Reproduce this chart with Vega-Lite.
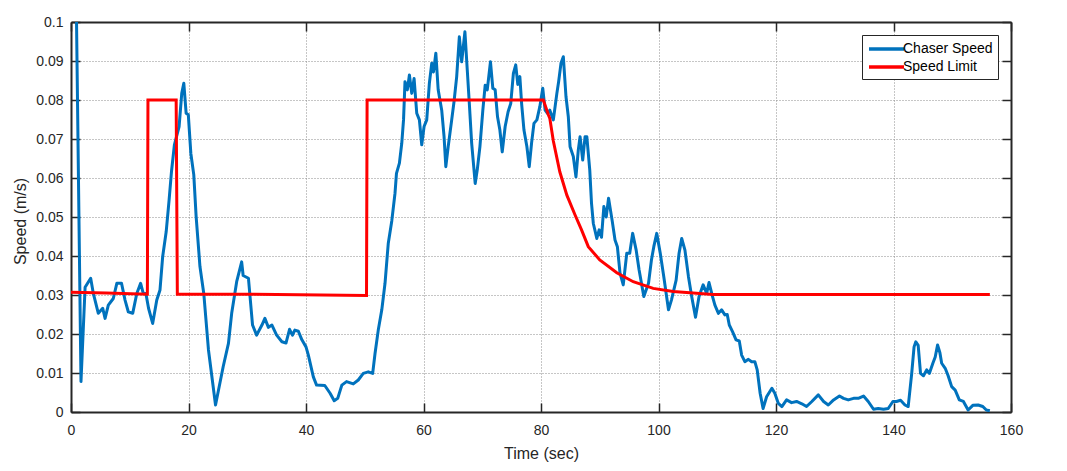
{
  "$schema": "https://vega.github.io/schema/vega-lite/v6.json",
  "width": 940,
  "height": 390,
  "autosize": {"type": "none"},
  "padding": {"left": 71, "top": 22, "right": 56, "bottom": 59},
  "background": "white",
  "config": {
    "view": {"stroke": null},
    "font": "Liberation Sans",
    "axis": {
      "domainColor": "#262626",
      "domainWidth": 2,
      "tickColor": "#262626",
      "tickWidth": 1.5,
      "tickSize": -9,
      "labelFlush": false,
      "labelColor": "#262626",
      "labelFontSize": 14,
      "titleColor": "#262626",
      "titleFontSize": 16,
      "titleFontWeight": "normal",
      "gridColor": "#8c8c8c",
      "gridDash": [1, 2],
      "gridWidth": 1
    },
    "legend": {
      "orient": "none",
      "legendX": 791,
      "legendY": 13,
      "fillColor": "white",
      "strokeColor": "#262626",
      "padding": 5,
      "symbolType": "M-1,0H4",
      "symbolSize": 196,
      "symbolStrokeWidth": 3.5,
      "labelOffset": 18,
      "labelFontSize": 14,
      "labelColor": "#000000",
      "rowPadding": 2,
      "title": null
    }
  },
  "resolve": {"axis": {"x": "independent", "y": "independent"}},
  "layer": [
    {
      "data": {"values": [
        {"t":0.9,"v":0.105},{"t":1.7,"v":0.0078},{"t":2.4,"v":0.032},{"t":3.35,"v":0.0343},{"t":3.8,"v":0.0304},{"t":4.65,"v":0.0253},{"t":5.4,"v":0.0266},{"t":5.8,"v":0.024},{"t":6.35,"v":0.0274},{"t":7.2,"v":0.0291},{"t":7.8,"v":0.033},{"t":8.6,"v":0.033},{"t":9.2,"v":0.0287},{"t":9.75,"v":0.0257},{"t":10.5,"v":0.0253},{"t":11.2,"v":0.0304},{"t":11.85,"v":0.033},{"t":12.3,"v":0.0304},{"t":12.75,"v":0.0304},{"t":13.2,"v":0.0266},{"t":13.9,"v":0.0227},{"t":14.6,"v":0.0287},{"t":15.15,"v":0.0313},{"t":15.6,"v":0.0398},{"t":16.2,"v":0.0462},{"t":16.7,"v":0.0544},{"t":17.1,"v":0.0616},{"t":17.6,"v":0.0685},{"t":18.4,"v":0.0732},{"t":18.85,"v":0.0817},{"t":19.2,"v":0.0843},{"t":19.6,"v":0.0766},{"t":19.97,"v":0.0762},{"t":20.4,"v":0.0663},{"t":20.9,"v":0.0608},{"t":21.3,"v":0.0501},{"t":21.95,"v":0.0373},{"t":22.6,"v":0.0304},{"t":23.4,"v":0.0159},{"t":24.6,"v":0.0018},{"t":25.9,"v":0.0116},{"t":26.8,"v":0.0176},{"t":27.35,"v":0.0253},{"t":28.2,"v":0.0334},{"t":29.05,"v":0.0385},{"t":29.3,"v":0.035},{"t":30.2,"v":0.0343},{"t":30.9,"v":0.0223},{"t":31.6,"v":0.0197},{"t":32.5,"v":0.0223},{"t":33.0,"v":0.024},{"t":33.6,"v":0.0217},{"t":34.2,"v":0.0223},{"t":35.0,"v":0.0197},{"t":35.9,"v":0.018},{"t":36.6,"v":0.0177},{"t":37.2,"v":0.0212},{"t":37.7,"v":0.0197},{"t":38.1,"v":0.021},{"t":38.7,"v":0.0207},{"t":39.3,"v":0.0185},{"t":40.0,"v":0.0167},{"t":40.4,"v":0.0146},{"t":41.25,"v":0.009},{"t":41.8,"v":0.0069},{"t":43.2,"v":0.0068},{"t":44.1,"v":0.0048},{"t":44.8,"v":0.0029},{"t":45.4,"v":0.0035},{"t":46.1,"v":0.0069},{"t":46.9,"v":0.0078},{"t":48.05,"v":0.0072},{"t":48.9,"v":0.0082},{"t":49.75,"v":0.0099},{"t":50.6,"v":0.0103},{"t":51.35,"v":0.0099},{"t":51.75,"v":0.015},{"t":52.3,"v":0.021},{"t":52.9,"v":0.0262},{"t":53.45,"v":0.033},{"t":54.0,"v":0.0432},{"t":54.6,"v":0.049},{"t":55.15,"v":0.0561},{"t":55.4,"v":0.0612},{"t":55.9,"v":0.0638},{"t":56.3,"v":0.0689},{"t":56.6,"v":0.0749},{"t":56.85,"v":0.0847},{"t":57.25,"v":0.0826},{"t":57.6,"v":0.0864},{"t":58.0,"v":0.0817},{"t":58.4,"v":0.0855},{"t":58.85,"v":0.0766},{"t":59.3,"v":0.0749},{"t":59.7,"v":0.0685},{"t":60.1,"v":0.0732},{"t":60.55,"v":0.0749},{"t":61.0,"v":0.0843},{"t":61.4,"v":0.0894},{"t":61.7,"v":0.0872},{"t":62.1,"v":0.092},{"t":62.5,"v":0.0826},{"t":63.1,"v":0.0774},{"t":63.5,"v":0.0706},{"t":63.8,"v":0.0629},{"t":64.2,"v":0.068},{"t":64.8,"v":0.0749},{"t":65.2,"v":0.0796},{"t":65.65,"v":0.086},{"t":66.1,"v":0.0962},{"t":66.5,"v":0.0898},{"t":67.05,"v":0.0975},{"t":67.45,"v":0.0877},{"t":67.8,"v":0.0791},{"t":68.2,"v":0.0689},{"t":68.8,"v":0.0586},{"t":69.15,"v":0.0621},{"t":69.6,"v":0.068},{"t":70.1,"v":0.0774},{"t":70.5,"v":0.0838},{"t":70.85,"v":0.0826},{"t":71.4,"v":0.0898},{"t":71.8,"v":0.083},{"t":72.2,"v":0.0826},{"t":72.6,"v":0.0757},{"t":73.0,"v":0.0723},{"t":73.4,"v":0.0667},{"t":73.9,"v":0.0732},{"t":74.4,"v":0.077},{"t":74.85,"v":0.0791},{"t":75.3,"v":0.0868},{"t":75.7,"v":0.089},{"t":76.05,"v":0.084},{"t":76.4,"v":0.086},{"t":76.7,"v":0.0791},{"t":77.1,"v":0.0723},{"t":77.6,"v":0.068},{"t":78.0,"v":0.0629},{"t":78.4,"v":0.069},{"t":78.8,"v":0.074},{"t":79.3,"v":0.0749},{"t":79.8,"v":0.0783},{"t":80.3,"v":0.083},{"t":80.7,"v":0.0774},{"t":81.1,"v":0.0766},{"t":81.5,"v":0.0774},{"t":82.1,"v":0.0749},{"t":82.7,"v":0.0817},{"t":83.0,"v":0.0847},{"t":83.4,"v":0.0894},{"t":83.8,"v":0.0911},{"t":84.25,"v":0.0809},{"t":84.65,"v":0.0757},{"t":84.95,"v":0.068},{"t":85.5,"v":0.0655},{"t":85.95,"v":0.0603},{"t":86.35,"v":0.0672},{"t":86.65,"v":0.0706},{"t":87.1,"v":0.0646},{"t":87.5,"v":0.0706},{"t":87.8,"v":0.0706},{"t":88.3,"v":0.062},{"t":88.6,"v":0.0535},{"t":88.9,"v":0.0484},{"t":89.5,"v":0.0445},{"t":89.9,"v":0.0467},{"t":90.3,"v":0.0448},{"t":90.7,"v":0.0527},{"t":91.1,"v":0.05},{"t":91.5,"v":0.0548},{"t":92.1,"v":0.0492},{"t":92.6,"v":0.0441},{"t":93.0,"v":0.0424},{"t":93.45,"v":0.0356},{"t":94.0,"v":0.0326},{"t":94.6,"v":0.0407},{"t":95.1,"v":0.0407},{"t":95.6,"v":0.0458},{"t":96.2,"v":0.0415},{"t":96.7,"v":0.0364},{"t":97.5,"v":0.0296},{"t":98.3,"v":0.033},{"t":98.8,"v":0.039},{"t":99.2,"v":0.0424},{"t":99.7,"v":0.0458},{"t":100.3,"v":0.0407},{"t":100.9,"v":0.0347},{"t":101.7,"v":0.0262},{"t":102.2,"v":0.0287},{"t":103.0,"v":0.0338},{"t":103.5,"v":0.0407},{"t":103.95,"v":0.0445},{"t":104.5,"v":0.0415},{"t":105.1,"v":0.0347},{"t":105.65,"v":0.0296},{"t":106.3,"v":0.0243},{"t":106.9,"v":0.0296},{"t":107.6,"v":0.0326},{"t":108.2,"v":0.0304},{"t":108.6,"v":0.0332},{"t":109.2,"v":0.0296},{"t":109.6,"v":0.0274},{"t":110.2,"v":0.0253},{"t":110.75,"v":0.0262},{"t":111.3,"v":0.0249},{"t":111.7,"v":0.025},{"t":112.05,"v":0.0223},{"t":112.6,"v":0.0206},{"t":113.2,"v":0.0185},{"t":113.75,"v":0.0182},{"t":114.15,"v":0.0146},{"t":114.7,"v":0.0129},{"t":115.3,"v":0.0135},{"t":115.85,"v":0.0129},{"t":116.4,"v":0.0129},{"t":116.8,"v":0.0108},{"t":117.3,"v":0.0048},{"t":117.8,"v":0.0009},{"t":118.4,"v":0.0039},{"t":119.3,"v":0.0061},{"t":119.8,"v":0.0048},{"t":120.4,"v":0.0022},{"t":121.0,"v":0.0014},{"t":121.8,"v":0.0031},{"t":122.65,"v":0.0024},{"t":123.5,"v":0.0027},{"t":124.4,"v":0.0021},{"t":125.2,"v":0.0014},{"t":126.1,"v":0.0027},{"t":127.2,"v":0.0044},{"t":128.1,"v":0.0027},{"t":128.9,"v":0.0018},{"t":129.8,"v":0.0031},{"t":130.8,"v":0.0041},{"t":131.5,"v":0.0035},{"t":132.3,"v":0.0031},{"t":133.2,"v":0.0035},{"t":134.0,"v":0.0035},{"t":134.9,"v":0.0041},{"t":135.7,"v":0.0027},{"t":136.6,"v":0.0007},{"t":137.4,"v":0.0009},{"t":138.3,"v":0.0007},{"t":139.1,"v":0.0009},{"t":139.9,"v":0.0027},{"t":140.5,"v":0.0027},{"t":141.2,"v":0.003},{"t":141.95,"v":0.0018},{"t":142.5,"v":0.0014},{"t":143.1,"v":0.0099},{"t":143.5,"v":0.0167},{"t":143.8,"v":0.018},{"t":144.2,"v":0.0171},{"t":144.6,"v":0.0099},{"t":145.1,"v":0.0093},{"t":145.65,"v":0.0108},{"t":146.1,"v":0.0099},{"t":146.7,"v":0.0125},{"t":147.1,"v":0.0141},{"t":147.5,"v":0.0172},{"t":147.9,"v":0.0152},{"t":148.2,"v":0.0125},{"t":148.8,"v":0.0112},{"t":149.3,"v":0.0093},{"t":149.9,"v":0.0065},{"t":150.5,"v":0.0056},{"t":151.2,"v":0.0031},{"t":151.9,"v":0.0027},{"t":152.7,"v":0.0005},{"t":153.5,"v":0.0017},{"t":154.4,"v":0.0018},{"t":155.2,"v":0.0014},{"t":155.8,"v":0.0005},{"t":156.4,"v":0.0003}
      ]},
      "mark": {"type": "line", "strokeWidth": 3, "clip": true, "strokeJoin": "round"},
      "encoding": {
        "x": {"field": "t", "type": "quantitative", "scale": {"domain": [0, 160], "nice": false},
          "axis": {"orient": "bottom", "title": "Time (sec)", "values": [0,20,40,60,80,100,120,140,160], "grid": true, "labelPadding": 20, "titleBaseline": "alphabetic", "titleY": 46}},
        "y": {"field": "v", "type": "quantitative", "scale": {"domain": [0, 0.1], "nice": false},
          "axis": {"orient": "left", "title": "Speed (m/s)", "values": [0,0.01,0.02,0.03,0.04,0.05,0.06,0.07,0.08,0.09,0.1], "format": "~g", "grid": true, "labelPadding": 17, "titleBaseline": "alphabetic", "titleX": -46, "titleY": 199}},
        "color": {"datum": "Chaser Speed", "type": "nominal", "scale": {"domain": ["Chaser Speed", "Speed Limit"], "range": ["#0072BD", "#FF0000"]}}
      }
    },
    {
      "data": {"values": [
        {"t":0,"v":0.0307},{"t":6,"v":0.0305},{"t":13.0,"v":0.0302},{"t":13.1,"v":0.08},{"t":17.9,"v":0.08},{"t":18.1,"v":0.0302},{"t":30,"v":0.0302},{"t":50.3,"v":0.0299},{"t":50.4,"v":0.08},{"t":80.4,"v":0.08},{"t":81.25,"v":0.0762},{"t":81.5,"v":0.0753},{"t":82.1,"v":0.0695},{"t":83.2,"v":0.0616},{"t":84.4,"v":0.0556},{"t":85.8,"v":0.0505},{"t":86.9,"v":0.0467},{"t":88.05,"v":0.0424},{"t":90.0,"v":0.039},{"t":92.9,"v":0.0357},{"t":95.7,"v":0.0334},{"t":99.1,"v":0.0317},{"t":102.5,"v":0.0309},{"t":105.9,"v":0.0305},{"t":109.3,"v":0.0301},{"t":156.4,"v":0.0301}
      ]},
      "mark": {"type": "line", "strokeWidth": 3, "clip": true},
      "encoding": {
        "x": {"field": "t", "type": "quantitative", "scale": {"domain": [0, 160], "nice": false},
          "axis": {"orient": "top", "title": null, "labels": false, "grid": false, "values": [0,20,40,60,80,100,120,140,160]}},
        "y": {"field": "v", "type": "quantitative", "scale": {"domain": [0, 0.1], "nice": false},
          "axis": {"orient": "right", "title": null, "labels": false, "grid": false, "values": [0,0.01,0.02,0.03,0.04,0.05,0.06,0.07,0.08,0.09,0.1]}},
        "color": {"datum": "Speed Limit", "type": "nominal"}
      }
    }
  ]
}
